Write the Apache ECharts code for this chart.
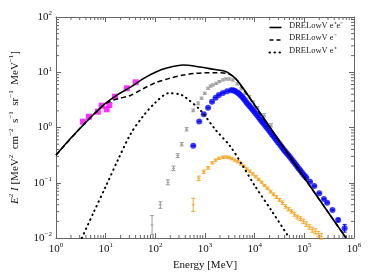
<!DOCTYPE html>
<html><head><meta charset="utf-8">
<script src="https://cdn.jsdelivr.net/npm/echarts@6/dist/echarts.min.js"></script>
<style>html,body{margin:0;padding:0;background:#fff}#c{width:374px;height:280px}</style>
</head><body><div id="c"></div>
<script>
const xTickExps = [0,1,2,3,4,5,6];
const yTickExps = [-2,-1,0,1,2];
const legendNames = ['DRELowV e\u207Ae\u207B', 'DRELowV e\u207B', 'DRELowV e\u207A'];

// model curves
const totalLogE = [0,0.25,0.5,0.75,1.0,1.25,1.5,1.75,2.0,2.25,2.565,2.8,3.0,3.2,3.43,3.56,3.65,3.72,3.8,4.0,4.35,4.6,5.0,5.5,5.84];
const totalLogV = [-0.50,-0.24,0.0,0.23,0.44,0.60,0.73,0.88,1.00,1.08,1.13,1.11,1.08,1.05,1.01,0.93,0.85,0.77,0.67,0.41,-0.05,-0.38,-0.91,-1.56,-2.0];
const eminusLogE = [0,0.5,1.0,1.25,1.5,1.75,2.0,2.25,2.565,2.8,3.0,3.2,3.43,3.56,3.65,3.72,3.8,4.0,4.35,4.6,5.0,5.5,5.84];
const eminusLogV = [-0.50,0.0,0.43,0.52,0.58,0.70,0.81,0.88,0.95,0.98,0.99,0.99,0.98,0.93,0.85,0.76,0.66,0.395,-0.06,-0.385,-0.915,-1.56,-2.0];
const eplusLogE = [0.52,0.75,1.0,1.25,1.5,1.75,2.0,2.27,2.5,2.6,2.9,3.22,3.5,3.75,4.0,4.35,4.7];
const eplusLogV = [-2.0,-1.55,-1.07,-0.58,-0.12,0.20,0.45,0.62,0.60,0.55,0.32,-0.05,-0.33,-0.68,-1.05,-1.52,-2.0];

// magenta squares
const magLogE = [0.543,0.662,0.841,0.920,1.020,1.074,1.187,1.425,1.604];
const magLogV = [0.105,0.195,0.286,0.395,0.329,0.407,0.557,0.709,0.818];

// gray points with error bars
const grayLogE = [1.934,2.101,2.253,2.366,2.451,2.531,2.630,2.763,2.863,2.930,2.996,3.062,3.110,3.160,3.227,3.290,3.360,3.426,3.490,3.560,3.650,3.730,3.810,3.890,3.970,4.056,4.190,4.330];
const grayLogV = [-1.765,-1.403,-0.992,-0.738,-0.510,-0.304,-0.033,0.310,0.438,0.530,0.619,0.709,0.750,0.770,0.800,0.830,0.860,0.878,0.878,0.860,0.790,0.700,0.620,0.557,0.460,0.360,0.220,0.040];
const grayErr  = [0.17,0.06,0.045,0.04,0.035,0.03,0.03,0.025,0.025,0.02,0.02,0.02,0.02,0.02,0.02,0.02,0.02,0.02,0.02,0.02,0.02,0.02,0.02,0.02,0.02,0.02,0.03,0.03];

// blue circles
const blueLogE = [2.763,2.883,2.976,3.062,3.141,3.214,3.280,3.360,3.445,3.525,3.560,3.590,3.620,3.658,3.690,3.720,3.750,3.780,3.810,3.840,3.870,3.900,3.930,3.960,3.990,4.020,4.050,4.080,4.110,4.140,4.170,4.200,4.230,4.260,4.290,4.320,4.350,4.380,4.410,4.440,4.470,4.500,4.530,4.560,4.590,4.620,4.650,4.680,4.710,4.740,4.770,4.800,4.830,4.860,4.890,4.920,4.950,4.980,5.010,5.040,5.115,5.200,5.300,5.395,5.460,5.567,5.680,5.811];
const blueLogV = [-0.329,0.110,0.240,0.358,0.467,0.540,0.588,0.625,0.655,0.672,0.672,0.665,0.652,0.630,0.607,0.580,0.552,0.520,0.486,0.450,0.418,0.385,0.352,0.320,0.288,0.255,0.220,0.185,0.150,0.115,0.082,0.050,0.015,-0.020,-0.055,-0.090,-0.125,-0.160,-0.195,-0.230,-0.265,-0.300,-0.335,-0.370,-0.405,-0.440,-0.470,-0.500,-0.535,-0.570,-0.605,-0.640,-0.675,-0.710,-0.745,-0.780,-0.815,-0.850,-0.880,-0.910,-0.980,-1.060,-1.190,-1.294,-1.360,-1.493,-1.674,-1.824];
const blueErrHigh = { 5.680: 0.03, 5.811: 0.07 };

// orange points with error bars
const orLogE = [2.763,2.876,2.976,3.062,3.147,3.214,3.280,3.360,3.420,3.480,3.540,3.600,3.660,3.720,3.780,3.840,3.900,3.960,4.020,4.080,4.140,4.200,4.260,4.320,4.380,4.440,4.500,4.560,4.620,4.680,4.740,4.800,4.860,4.920,4.980,5.040,5.100,5.160,5.220,5.280,5.340];
const orLogV = [-1.400,-0.920,-0.800,-0.730,-0.640,-0.590,-0.557,-0.540,-0.535,-0.540,-0.565,-0.590,-0.620,-0.660,-0.700,-0.750,-0.790,-0.840,-0.890,-0.940,-0.990,-1.050,-1.100,-1.160,-1.210,-1.260,-1.310,-1.360,-1.430,-1.480,-1.520,-1.570,-1.620,-1.650,-1.700,-1.750,-1.800,-1.850,-1.880,-1.930,-1.970];
const orErr  = [0.12,0.04,0.03,0.025,0.02,0.02,0.02,0.02,0.02,0.02,0.02,0.02,0.02,0.02,0.02,0.02,0.02,0.02,0.02,0.02,0.02,0.02,0.02,0.025,0.025,0.025,0.025,0.03,0.03,0.03,0.03,0.035,0.035,0.035,0.04,0.04,0.04,0.045,0.045,0.05,0.05];

const p10 = e => Math.pow(10, e);
const pts = (xs, ys) => xs.map((x, i) => [p10(x), p10(ys[i])]);
const errPts = (xs, ys, es) => xs.map((x, i) => [p10(x), p10(ys[i]), p10(ys[i] - es[i]), p10(ys[i] + es[i])]);
const blueErr = blueLogE.map(x => blueErrHigh[x] || 0);

// minor tick positions (axis decoration)
const xMinor = [], yMinor = [];
for (let d = 0; d < 6; d++) for (let k = 2; k <= 9; k++) xMinor.push([k * p10(d)]);
for (let d = -2; d < 2; d++) for (let k = 2; k <= 9; k++) yMinor.push([k * p10(d)]);

const serif = 'Liberation Serif';
const AX = '#666';
const supFmt = v => { const e = Math.round(Math.log10(v)); return '{b|10}{s|' + (e < 0 ? '\u2212' + (-e) : e) + '}'; };
const rich = { b: { fontSize: 11, fontFamily: serif, color: '#111' }, s: { fontSize: 7, fontFamily: serif, color: '#111', padding: [0, 0, 7, 0] } };

function errRender(color) {
  return function (params, api) {
    const x = api.value(0);
    const c = api.coord([x, api.value(1)]);
    const lo = api.coord([x, api.value(2)])[1];
    const hi = api.coord([x, api.value(3)])[1];
    const st = { stroke: color, lineWidth: 1 };
    return { type: 'group', children: [
      { type: 'line', shape: { x1: c[0], y1: lo, x2: c[0], y2: hi }, style: st },
      { type: 'line', shape: { x1: c[0] - 2, y1: lo, x2: c[0] + 2, y2: lo }, style: st },
      { type: 'line', shape: { x1: c[0] - 2, y1: hi, x2: c[0] + 2, y2: hi }, style: st },
      { type: 'line', shape: { x1: c[0] - 1.5, y1: c[1], x2: c[0] + 1.5, y2: c[1] }, style: st }
    ]};
  };
}
function minorRender(isX) {
  return function (params, api) {
    const cs = params.coordSys;
    const v = api.value(0);
    const st = { stroke: AX, lineWidth: 1 };
    if (isX) {
      const x = api.coord([v, 1])[0];
      return { type: 'group', children: [
        { type: 'line', shape: { x1: x, y1: cs.y + cs.height, x2: x, y2: cs.y + cs.height - 3 }, style: st },
        { type: 'line', shape: { x1: x, y1: cs.y, x2: x, y2: cs.y + 3 }, style: st }
      ]};
    } else {
      const y = api.coord([1, v])[1];
      return { type: 'group', children: [
        { type: 'line', shape: { x1: cs.x, y1: y, x2: cs.x + 3, y2: y }, style: st },
        { type: 'line', shape: { x1: cs.x + cs.width, y1: y, x2: cs.x + cs.width - 3, y2: y }, style: st }
      ]};
    }
  };
}

const chart = echarts.init(document.getElementById('c'), null, { renderer: 'canvas' });
const baseX = { type: 'log', logBase: 10, min: p10(xTickExps[0]), max: p10(xTickExps[xTickExps.length - 1]), splitNumber: 6,
  axisLine: { lineStyle: { color: AX, width: 1 } }, axisTick: { inside: true, length: 5, lineStyle: { color: AX } },
  splitLine: { show: false }, minorTick: { show: false } };
const baseY = { type: 'log', logBase: 10, min: p10(yTickExps[0]), max: p10(yTickExps[yTickExps.length - 1]), splitNumber: 4,
  axisLine: { lineStyle: { color: AX, width: 1 } }, axisTick: { inside: true, length: 5, lineStyle: { color: AX } },
  splitLine: { show: false } };

const legendStyles = [
  { lineDash: null, lineWidth: 1.6, lineCap: 'butt' },
  { lineDash: [4, 3], lineWidth: 1.5, lineCap: 'butt' },
  { lineDash: [0.5, 4.5], lineWidth: 2, lineCap: 'round' }
];
const legendGraphic = [];
legendNames.forEach((n, i) => {
  const y = 26 + i * 12.5;
  legendGraphic.push({ type: 'line', left: 267, top: y - 1, shape: { x1: 0, y1: 0, x2: 12, y2: 0 },
    style: Object.assign({ stroke: '#000' }, legendStyles[i]) });
  legendGraphic.push({ type: 'text', left: 289, top: y - 5, style: { text: n, font: '8.5px "Liberation Serif"', fill: '#222' } });
});

chart.setOption({
  animation: false,
  backgroundColor: '#fff',
  grid: { left: 51, right: 20, top: 17, bottom: 42 },
  graphic: legendGraphic,
  xAxis: [
    Object.assign({}, baseX, { position: 'bottom', axisLabel: { formatter: supFmt, rich: rich, margin: 4 },
      name: 'Energy [MeV]', nameLocation: 'middle', nameGap: 22, nameTextStyle: { fontFamily: serif, fontSize: 11, color: '#111' } }),
    Object.assign({}, baseX, { position: 'top', axisLabel: { show: false } })
  ],
  yAxis: [
    Object.assign({}, baseY, { position: 'left', axisLabel: { formatter: supFmt, rich: rich, margin: 4 },
      name: '{i|E}{p|2} {i|I} [MeV{p|2}  cm{p|\u22122}  s{p|\u22121}  sr{p|\u22121}  MeV{p|\u22121}]', nameLocation: 'middle', nameGap: 34,
      nameTextStyle: { fontFamily: serif, fontSize: 11, color: '#111',
        rich: { i: { fontStyle: 'italic', fontFamily: serif, fontSize: 11, color: '#111' }, p: { fontSize: 7, fontFamily: serif, color: '#111', padding: [0, 0, 7, 0] } } } }),
    Object.assign({}, baseY, { position: 'right', axisLabel: { show: false } })
  ],
  series: [
    { type: 'custom', renderItem: minorRender(true), data: xMinor, silent: true, z: 1, clip: false },
    { type: 'custom', renderItem: minorRender(false), data: yMinor, silent: true, z: 1, clip: false },
    { type: 'custom', name: 'gray', renderItem: errRender('#9a9a9a'), data: errPts(grayLogE, grayLogV, grayErr), z: 2 },
    { type: 'custom', name: 'orange', renderItem: errRender('#f5a623'), data: errPts(orLogE, orLogV, orErr), z: 2 },
    { type: 'custom', name: 'blueerr', renderItem: errRender('#0000ff'), data: errPts(blueLogE, blueLogV, blueErr), z: 3 },
    { type: 'scatter', name: 'blue', data: pts(blueLogE, blueLogV), symbol: 'circle', symbolSize: 6, itemStyle: { color: '#0a0aff' }, z: 3 },
    { type: 'scatter', name: 'magenta', data: pts(magLogE, magLogV), symbol: 'rect', symbolSize: 6, itemStyle: { color: '#ff00ff' }, z: 3 },
    { type: 'line', name: legendNames[0], data: pts(totalLogE, totalLogV), smooth: 0.3, showSymbol: false, symbol: 'none',
      lineStyle: { color: '#000', width: 1.6, type: 'solid' }, itemStyle: { color: '#000' }, z: 5 },
    { type: 'line', name: legendNames[1], data: pts(eminusLogE, eminusLogV), smooth: 0.3, showSymbol: false, symbol: 'none',
      lineStyle: { color: '#000', width: 1.5, type: [5, 3] }, itemStyle: { color: '#000' }, z: 4 },
    { type: 'line', name: legendNames[2], data: pts(eplusLogE, eplusLogV), smooth: 0.3, showSymbol: false, symbol: 'none',
      lineStyle: { color: '#000', width: 2, type: [0.5, 4.5], cap: 'round' }, itemStyle: { color: '#000' }, z: 4 }
  ]
});
</script>
</body></html>
